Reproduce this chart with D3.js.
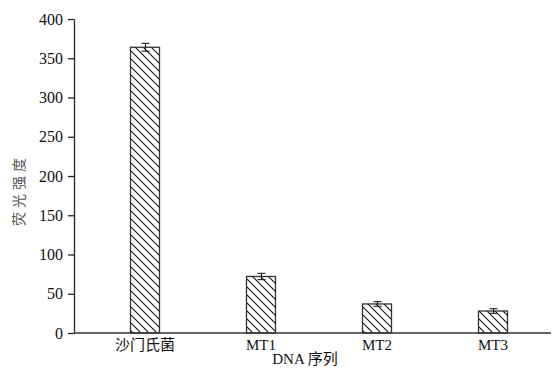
<!DOCTYPE html>
<html>
<head>
<meta charset="utf-8">
<script src="https://cdn.jsdelivr.net/npm/d3@7/dist/d3.min.js"></script>
<style>
  html, body { margin: 0; padding: 0; background: #fff; }
  svg { display: block; }
</style>
</head>
<body>
<svg id="chart" width="552" height="368"></svg>
<script>
// Fluorescence intensity by DNA sequence
const categories = ["沙门氏菌", "MT1", "MT2", "MT3"];
const values = [364, 72, 37, 28];
const errors = [5, 4, 3, 3];
const yTicks = [0, 50, 100, 150, 200, 250, 300, 350, 400];

(function () {
const svg = d3.select("#chart");
const marginLeft = 74, baseY = 333, topY = 19;
const serif = "'Liberation Serif', 'Times New Roman', 'Noto Sans CJK SC', serif";

const x = d3.scaleBand()
  .domain(categories)
  .range([87, 551])
  .paddingInner(0.75)
  .paddingOuter(0.375);

const y = d3.scaleLinear().domain([0, 400]).range([baseY, topY]);

// diagonal hatch fill
const defs = svg.append("defs");
const pat = defs.append("pattern")
  .attr("id", "hatch")
  .attr("patternUnits", "userSpaceOnUse")
  .attr("width", 8).attr("height", 8);
pat.append("path")
  .attr("d", "M0,0 L8,8 M-2,6 L2,10 M6,-2 L10,2")
  .attr("stroke", "#111")
  .attr("stroke-width", 1.1)
  .attr("fill", "none");

// bars
svg.append("g").selectAll("rect")
  .data(categories)
  .join("rect")
  .attr("x", d => x(d))
  .attr("y", (d, i) => y(values[i]))
  .attr("width", x.bandwidth())
  .attr("height", (d, i) => y(0) - y(values[i]))
  .attr("fill", "url(#hatch)")
  .attr("stroke", "#333")
  .attr("stroke-width", 1.3);

// error bars
const eb = svg.append("g").attr("stroke", "#222").attr("stroke-width", 1.1);
categories.forEach((c, i) => {
  const cx = Math.round(x(c) + x.bandwidth() / 2) + 0.5;
  const y1 = y(values[i] + errors[i]), y2 = y(values[i] - errors[i]);
  eb.append("line").attr("x1", cx).attr("x2", cx).attr("y1", y1).attr("y2", y2);
  eb.append("line").attr("x1", cx - 4).attr("x2", cx + 4).attr("y1", y1).attr("y2", y1);
  eb.append("line").attr("x1", cx - 4).attr("x2", cx + 4).attr("y1", y2).attr("y2", y2);
});

// y axis
const yAxis = d3.axisLeft(y).tickValues(yTicks).tickSize(6).tickPadding(5).tickSizeOuter(0);
const gy = svg.append("g").attr("transform", `translate(${marginLeft},0)`).call(yAxis);
gy.attr("font-family", null);
gy.select(".domain").attr("stroke", "#222").attr("stroke-width", 1.3);
gy.selectAll(".tick line").attr("stroke", "#222").attr("stroke-width", 1.3);
gy.selectAll(".tick text")
  .style("font-family", serif)
  .style("font-size", "16px")
  .attr("fill", "#111");

// x axis
svg.append("line")
  .attr("x1", marginLeft).attr("x2", 551)
  .attr("y1", baseY).attr("y2", baseY)
  .attr("stroke", "#333").attr("stroke-width", 1.5);

svg.append("g").selectAll("text")
  .data(categories)
  .join("text")
  .attr("x", d => x(d) + x.bandwidth() / 2)
  .attr("y", 350)
  .attr("text-anchor", "middle")
  .style("font-family", serif)
  .style("font-size", "15px")
  .attr("fill", "#111")
  .text(d => d);

// axis titles
svg.append("text")
  .attr("x", 305).attr("y", 364)
  .attr("text-anchor", "middle")
  .style("font-family", serif)
  .style("font-size", "15px")
  .attr("fill", "#111")
  .text("DNA 序列");

svg.append("text")
  .attr("transform", "translate(24,190) rotate(-90)")
  .attr("text-anchor", "middle")
  .style("font-family", "'Noto Sans CJK SC', sans-serif")
  .style("font-size", "14px")
  .style("letter-spacing", "4px")
  .attr("fill", "#555")
  .text("荧光强度");
})();
</script>
</body>
</html>
